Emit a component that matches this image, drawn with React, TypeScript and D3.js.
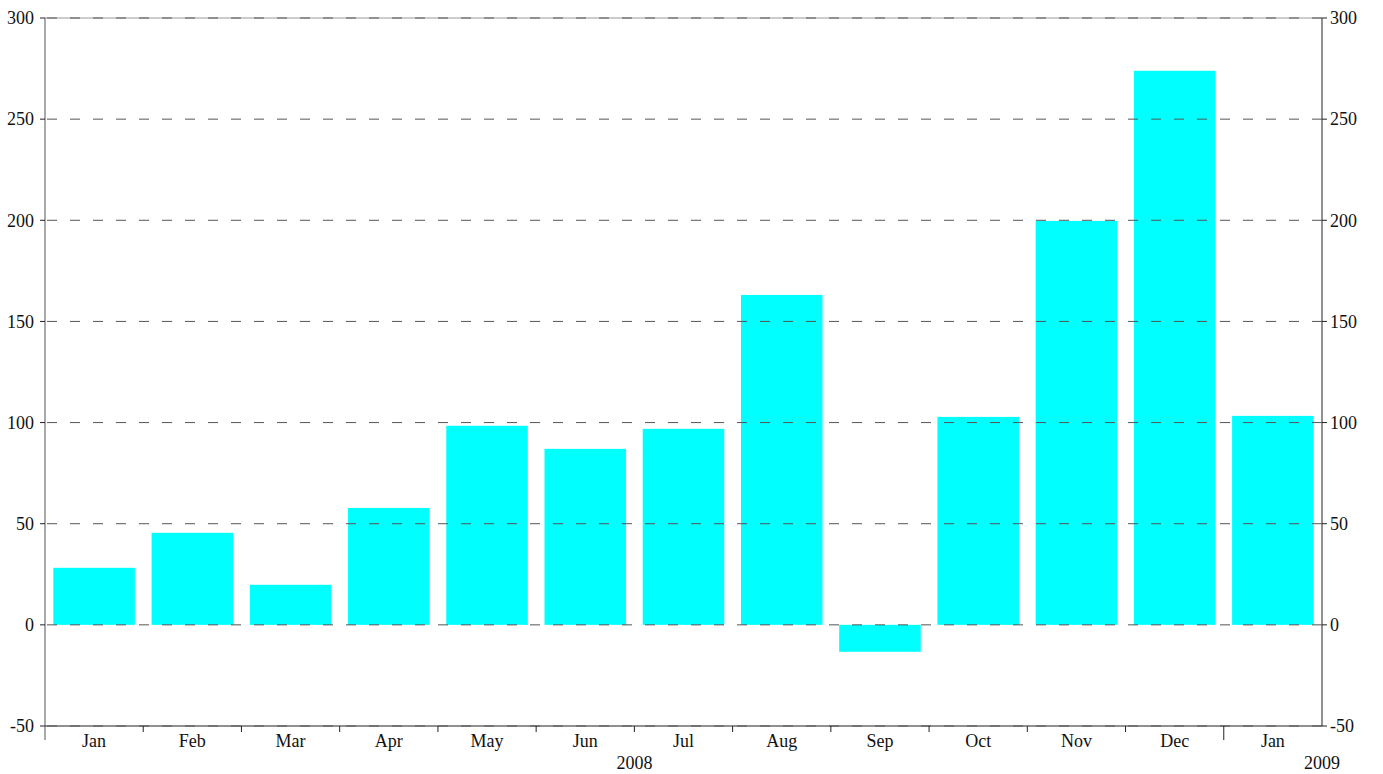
import * as d3 from 'd3'

// ─── Data ─────────────────────────────────────────────────────────────────────

const months = ['Jan', 'Feb', 'Mar', 'Apr', 'May', 'Jun', 'Jul', 'Aug', 'Sep', 'Oct', 'Nov', 'Dec', 'Jan']
const values = [28.2, 45.5, 19.8, 57.8, 98.4, 87.0, 96.9, 163.1, -13.3, 102.8, 199.7, 273.9, 103.3]
const yTicks = [-50, 0, 50, 100, 150, 200, 250, 300]
const years = [
  { label: '2008', from: 0, to: 12 },
  { label: '2009', from: 12, to: 13 },
]

// ─── Layout ───────────────────────────────────────────────────────────────────

const W = 1383
const H = 774
const MARGIN = { top: 18, right: 61, bottom: 48, left: 45 }
const FONT = '"Liberation Serif", "Times New Roman", serif'
const FS = 18

export default function App() {
  const innerW = W - MARGIN.left - MARGIN.right
  const innerH = H - MARGIN.top - MARGIN.bottom

  const x = d3.scaleBand<number>()
    .domain(d3.range(months.length))
    .range([0, innerW])
    .paddingInner(0.17)
    .paddingOuter(0.085)
  const y = d3.scaleLinear().domain([-50, 300]).range([innerH, 0])

  const step = innerW / months.length
  const edge = (i: number) => i * step

  return (
    <div style={{ position: 'fixed', left: 0, top: 0 }}>
      <svg width={W} height={H} style={{ display: 'block', background: '#fff' }} fontFamily={FONT}>
        <g transform={`translate(${MARGIN.left},${MARGIN.top})`}>
          {/* bars */}
          {values.map((v, i) => (
            <rect
              key={i}
              x={x(i)}
              y={y(Math.max(0, v))}
              width={x.bandwidth()}
              height={Math.abs(y(v) - y(0))}
              fill="#00ffff"
            />
          ))}

          {/* frame */}
          <line x1={0} x2={innerW} y1={0} y2={0} stroke="#999" />
          <line x1={0} x2={innerW} y1={innerH} y2={innerH} stroke="#222" />
          <line x1={0} x2={0} y1={0} y2={innerH + 14} stroke="#555" />
          <line x1={innerW} x2={innerW} y1={0} y2={innerH} stroke="#222" />

          {/* gridlines on top of bars */}
          {yTicks.map((t) => (
            <line
              key={t}
              x1={0}
              x2={innerW}
              y1={y(t)}
              y2={y(t)}
              stroke="#555"
              strokeDasharray="10,13"
              strokeDashoffset={-2}
            />
          ))}

          {/* y ticks + labels, both sides */}
          {yTicks.map((t) => (
            <g key={t}>
              <line x1={-5} x2={0} y1={y(t)} y2={y(t)} stroke="#222" />
              <line x1={innerW} x2={innerW + 5} y1={y(t)} y2={y(t)} stroke="#222" />
              <text x={-11} y={y(t)} dy="0.35em" textAnchor="end" fontSize={FS} fill="#111">{t}</text>
              <text x={innerW + 8} y={y(t)} dy="0.35em" textAnchor="start" fontSize={FS} fill="#111">{t}</text>
            </g>
          ))}

          {/* category ticks */}
          {d3.range(1, months.length).map((i) => (
            <line
              key={i}
              x1={edge(i)}
              x2={edge(i)}
              y1={innerH}
              y2={innerH + (years.some((yr) => yr.to === i) ? 14 : 6)}
              stroke="#222"
            />
          ))}

          {/* month labels */}
          {months.map((m, i) => (
            <text key={i} x={edge(i) + step / 2} y={innerH + 21} textAnchor="middle" fontSize={FS} fill="#111">{m}</text>
          ))}

          {/* year labels */}
          {years.map((yr) => (
            <text
              key={yr.label}
              x={yr.to === months.length ? innerW : (edge(yr.from) + edge(yr.to)) / 2}
              y={innerH + 43}
              textAnchor="middle"
              fontSize={FS}
              fill="#111"
            >
              {yr.label}
            </text>
          ))}
        </g>
      </svg>
    </div>
  )
}
